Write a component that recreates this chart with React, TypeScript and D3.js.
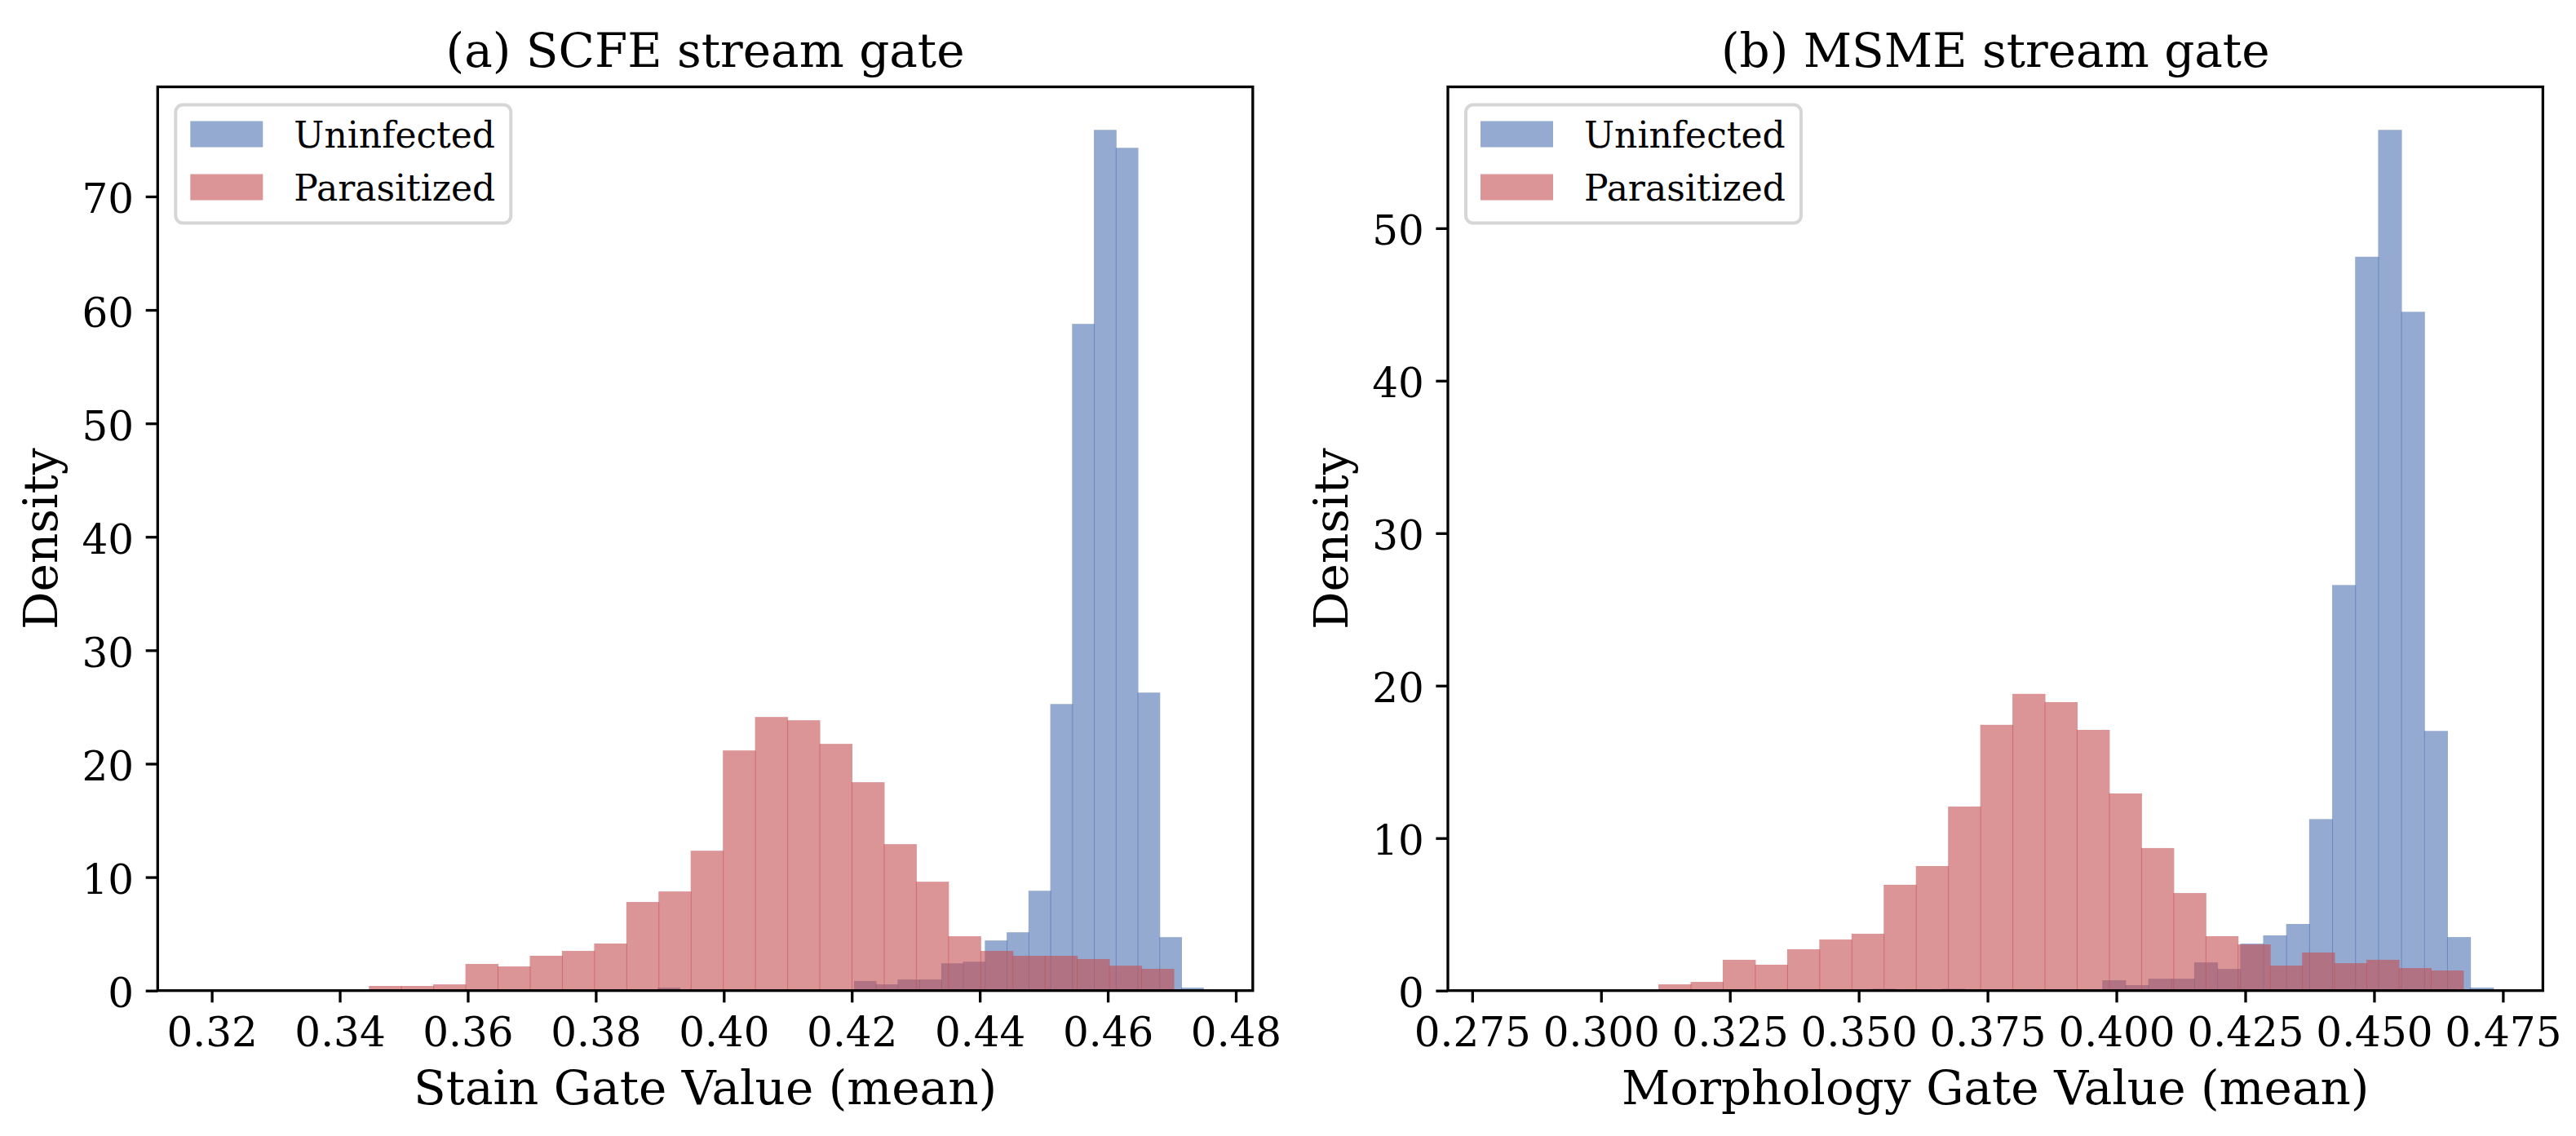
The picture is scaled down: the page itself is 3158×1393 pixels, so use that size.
import * as React from "react";
import * as d3 from "d3";

const W = 3158;
const H = 1393;
const FONT = "'DejaVu Serif', serif";
const BLUE = "#4c72b0";
const RED = "#c44e52";
const ALPHA = 0.6;

// axes box (pixels)
const AX_TOP = 106.5;
const AX_BOTTOM = 1214.7;

// ---- (a) SCFE stream gate ----
const stainXLim = [0.31155, 0.48265];
const stainXTicks = [0.32, 0.34, 0.36, 0.38, 0.40, 0.42, 0.44, 0.46, 0.48];
const stainYTicks = [0, 10, 20, 30, 40, 50, 60, 70];

// Uninfected: 45 bins starting at 0.32151, width 0.003408
const stainUninfStart = 0.32151;
const stainUninfWidth = 0.003408;
const stainUninfDensity = [
    0, 0, 0, 0, 0, 0, 0, 0, 0, 0,
    0, 0, 0, 0, 0, 0, 0, 0, 0, 0,
    0.26, 0, 0, 0, 0, 0, 0, 0, 0, 0.84,
    0.55, 0.98, 0.98, 2.41, 2.55, 4.42, 5.14, 8.8, 25.26, 58.77,
    75.87, 74.29, 26.27, 4.71, 0.26,
];

// Parasitized: 25 bins starting at 0.34455, width 0.005028
const stainParaStart = 0.34455;
const stainParaWidth = 0.005028;
const stainParaDensity = [
    0.41, 0.41, 0.55, 2.35, 2.13, 3.07, 3.5, 4.15, 7.81, 8.74,
    12.33, 21.17, 24.12, 23.83, 21.75, 18.37, 12.91, 9.6, 4.79, 3.5,
    3.07, 3.07, 2.78, 2.2, 1.92,
];

// ---- (b) MSME stream gate ----
const morphXLim = [0.27028, 0.48276];
const morphXTicks = [0.275, 0.300, 0.325, 0.350, 0.375, 0.400, 0.425, 0.450, 0.475];
const morphYTicks = [0, 10, 20, 30, 40, 50];

// Uninfected: 43 bins starting at 0.28127, width 0.004461
const morphUninfStart = 0.28127;
const morphUninfWidth = 0.004461;
const morphUninfDensity = [
    0, 0, 0, 0, 0, 0, 0, 0, 0, 0,
    0, 0, 0, 0, 0, 0, 0.12, 0, 0, 0.12,
    0, 0, 0, 0, 0, 0, 0.68, 0.36, 0.78, 0.78,
    1.85, 1.42, 3.08, 3.62, 4.37, 11.25, 26.6, 48.13, 56.45, 44.52,
    17.03, 3.51, 0.2,
];

// Parasitized: 25 bins starting at 0.31113, width 0.006245
const morphParaStart = 0.31113;
const morphParaWidth = 0.006245;
const morphParaDensity = [
    0.41, 0.57, 2.02, 1.7, 2.71, 3.35, 3.73, 6.94, 8.17, 12.07,
    17.43, 19.46, 18.92, 17.1, 12.93, 9.35, 6.4, 3.57, 3.03, 1.64,
    2.5, 1.8, 2.02, 1.48, 1.32,
];

const legendLabels = ["Uninfected", "Parasitized"];

function toBins(start, width, density) {
    return density.map((v, i) => ({x0: start + i * width, x1: start + (i + 1) * width, v}));
}

const panels = [
    {
        left: 193.3, right: 1535.8,
        title: "(a) SCFE stream gate",
        xLabel: "Stain Gate Value (mean)",
        xLim: stainXLim, xTicks: stainXTicks, xFmt: ".2f", yTicks: stainYTicks,
        series: [
            {bins: toBins(stainUninfStart, stainUninfWidth, stainUninfDensity), color: BLUE},
            {bins: toBins(stainParaStart, stainParaWidth, stainParaDensity), color: RED},
        ],
    },
    {
        left: 1775, right: 3117.4,
        title: "(b) MSME stream gate",
        xLabel: "Morphology Gate Value (mean)",
        xLim: morphXLim, xTicks: morphXTicks, xFmt: ".3f", yTicks: morphYTicks,
        series: [
            {bins: toBins(morphUninfStart, morphUninfWidth, morphUninfDensity), color: BLUE},
            {bins: toBins(morphParaStart, morphParaWidth, morphParaDensity), color: RED},
        ],
    },
];

function drawPanel(svg, p) {
    const x = d3.scaleLinear().domain(p.xLim).range([p.left, p.right]);
    const yMax = d3.max(p.series.flatMap(s => s.bins.map(b => b.v))) * 1.05;
    const y = d3.scaleLinear().domain([0, yMax]).range([AX_BOTTOM, AX_TOP]);

    const g = svg.append("g");

    // bars (blue first, red on top); 1px overlap gives the darker seams
    p.series.forEach(s => {
        g.append("g")
            .selectAll("rect")
            .data(s.bins.filter(b => b.v > 0))
            .join("rect")
            .attr("x", b => x(b.x0))
            .attr("width", b => x(b.x1) - x(b.x0) + 1)
            .attr("y", b => y(b.v))
            .attr("height", b => y(0) - y(b.v))
            .attr("fill", s.color)
            .attr("fill-opacity", ALPHA);
    });

    const xAxis = d3.axisBottom(x)
        .tickValues(p.xTicks)
        .tickFormat(d3.format(p.xFmt))
        .tickSize(14.6)
        .tickPadding(18)
        .tickSizeOuter(0);
    const gx = g.append("g")
        .attr("transform", `translate(0,${AX_BOTTOM})`)
        .call(xAxis)
        .attr("font-size", 50)
        .attr("font-family", FONT);
    gx.select(".domain").remove();
    gx.selectAll("line").attr("stroke-width", 3.3);

    const yAxis = d3.axisLeft(y)
        .tickValues(p.yTicks)
        .tickFormat(d3.format("d"))
        .tickSize(14.6)
        .tickPadding(14.6)
        .tickSizeOuter(0);
    const gy = g.append("g")
        .attr("transform", `translate(${p.left},0)`)
        .call(yAxis)
        .attr("font-size", 50)
        .attr("font-family", FONT);
    gy.select(".domain").remove();
    gy.selectAll("line").attr("stroke-width", 3.3);
    gy.selectAll("text").attr("dy", "0.4em");

    // frame
    g.append("rect")
        .attr("x", p.left)
        .attr("y", AX_TOP)
        .attr("width", p.right - p.left)
        .attr("height", AX_BOTTOM - AX_TOP)
        .attr("fill", "none")
        .attr("stroke", "#000")
        .attr("stroke-width", 3.3);

    const cx = (p.left + p.right) / 2;
    g.append("text")
        .attr("x", cx).attr("y", 82)
        .attr("text-anchor", "middle")
        .attr("font-family", FONT).attr("font-size", 58)
        .text(p.title);
    g.append("text")
        .attr("x", cx).attr("y", 1354)
        .attr("text-anchor", "middle")
        .attr("font-family", FONT).attr("font-size", 58)
        .text(p.xLabel);
    g.append("text")
        .attr("transform", `translate(${p.left - 123},${(AX_TOP + AX_BOTTOM) / 2}) rotate(-90)`)
        .attr("text-anchor", "middle")
        .attr("font-family", FONT).attr("font-size", 58)
        .text("Density");

    // legend
    const lg = g.append("g").attr("transform", `translate(${p.left + 22},${AX_TOP + 22})`);
    lg.append("rect")
        .attr("width", 411).attr("height", 145)
        .attr("rx", 9)
        .attr("fill", "#fff").attr("fill-opacity", 0.8)
        .attr("stroke", "#ccc").attr("stroke-opacity", 0.8)
        .attr("stroke-width", 4);
    p.series.forEach((s, i) => {
        lg.append("rect")
            .attr("x", 18).attr("y", 20 + i * 65)
            .attr("width", 89).attr("height", 32)
            .attr("fill", s.color).attr("fill-opacity", ALPHA);
        lg.append("text")
            .attr("x", 145).attr("y", 52 + i * 65)
            .attr("font-family", FONT).attr("font-size", 44)
            .text(legendLabels[i]);
    });
}

export default function App() {
    const ref = React.useRef(null);
    React.useEffect(() => {
        const svg = d3.select(ref.current);
        svg.selectAll("*").remove();
        panels.forEach(p => drawPanel(svg, p));
    }, []);
    return (
        <svg ref={ref} width={W} height={H}
             style={{position: "absolute", left: 0, top: 0, background: "#fff"}}/>
    );
}
